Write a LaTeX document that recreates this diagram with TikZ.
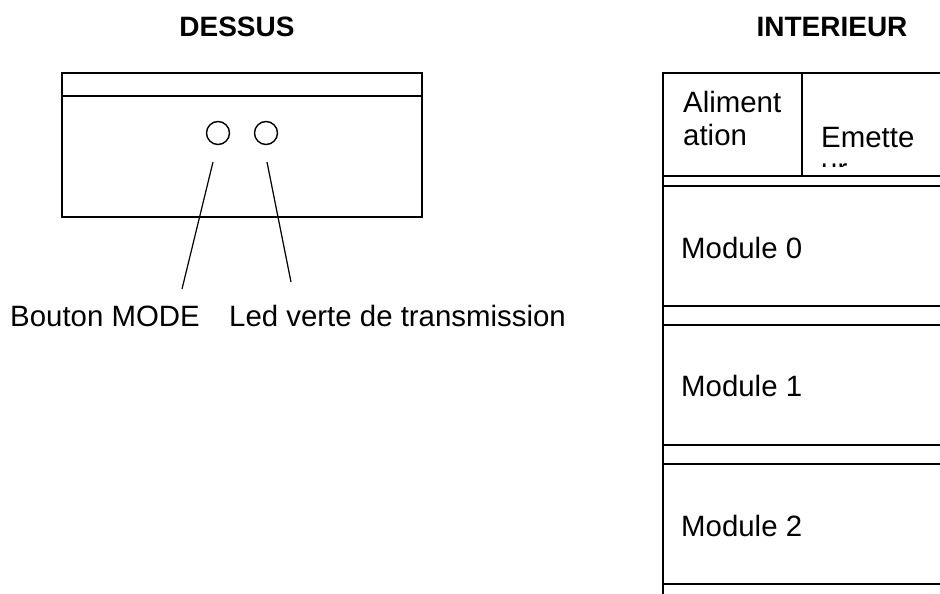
\documentclass[tikz,border=0pt]{standalone}
\usepackage{fontspec}
\setmainfont{Liberation Sans}
\begin{document}
\begin{tikzpicture}[x=1pt,y=-1pt,
  ln/.style={line width=1.4pt,black},
  txt/.style={anchor=base west,inner sep=0pt,font=\fontsize{29.4}{32}\selectfont},
  ttl/.style={anchor=base,inner sep=0pt,font=\fontsize{28}{32}\selectfont\bfseries},
  led/.style={circle,draw,line width=1.4pt,minimum size=23pt,inner sep=0pt}]
\useasboundingbox (0,0) rectangle (940,594);
% titles
\node[ttl] (dessus) at (237,37) {DESSUS};
\node[ttl] (interieur) at (832,37) {INTERIEUR};
% top view box
\draw[ln] (62,73) rectangle (422,217);
\draw[ln] (62,96) -- (422,96);
\node[led] (bouton) at (218,133) {};
\node[led] (ledv) at (266,133) {};
\coordinate (b1) at (213,162);
\coordinate (b2) at (182,289);
\coordinate (l1) at (267,162);
\coordinate (l2) at (291,282);
\draw[line width=1.2pt] (b1) -- (b2);
\draw[line width=1.2pt] (l1) -- (l2);
\node[txt] (lbouton) at (10,326) {Bouton MODE};
\node[txt] (lled) at (229,326) {Led verte de transmission};
% interior
\draw[ln] (940,73) -- (663,73) -- (663,594);
\draw[ln] (802,73) -- (802,176);
\foreach \yy in {176,186,306,325,445,464,584}
  \draw[ln] (663,\yy) -- (940,\yy);
\node[txt] (alim1) at (683,113) {Aliment};
\node[txt] (alim2) at (683,145) {ation};
\begin{scope}
  \clip (805,100) rectangle (940,166);
  \node[txt] (emet1) at (821,147) {Emette};
  \node[txt] (emet2) at (821,179) {ur};
\end{scope}
\node[txt] (mod0) at (681,258) {Module 0};
\node[txt] (mod1) at (681,396) {Module 1};
\node[txt] (mod2) at (681,536) {Module 2};
\end{tikzpicture}
\end{document}
